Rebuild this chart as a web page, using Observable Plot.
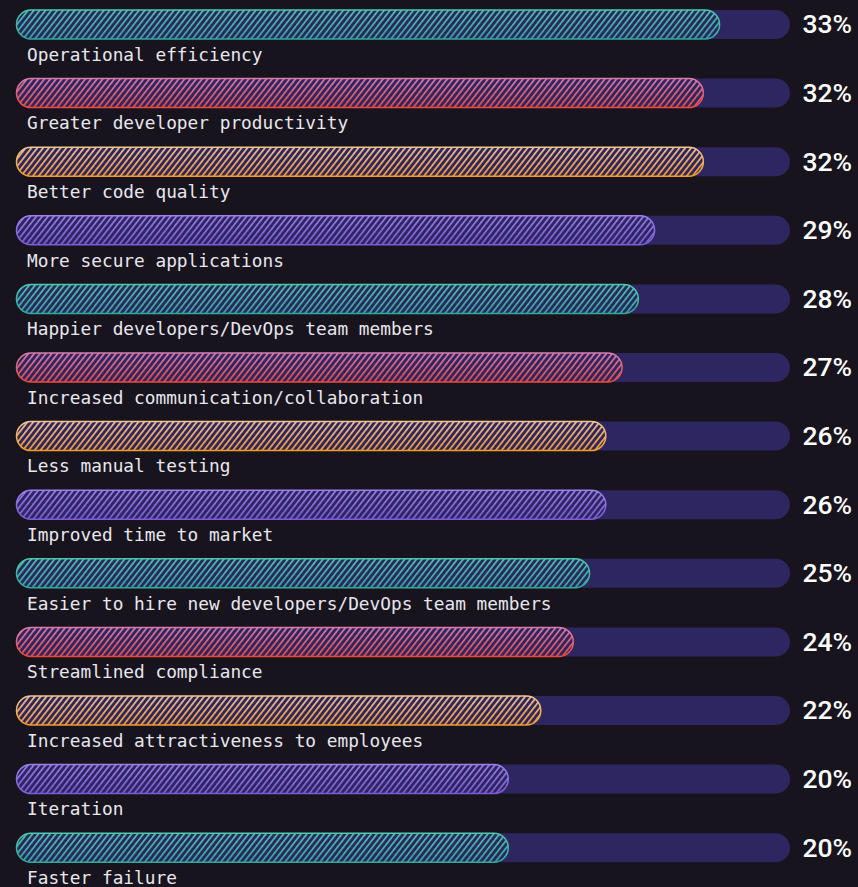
<!DOCTYPE html>
<html><head><meta charset="utf-8">
<script src="https://cdn.jsdelivr.net/npm/d3@7"></script>
<script src="https://cdn.jsdelivr.net/npm/@observablehq/plot@0.6"></script>
<style>html,body{margin:0;padding:0;background:#17141e;} #chart{width:858px;height:887px;overflow:hidden}</style>
</head><body><div id="chart"></div>
<script>
const categories = [
  "Operational efficiency",
  "Greater developer productivity",
  "Better code quality",
  "More secure applications",
  "Happier developers/DevOps team members",
  "Increased communication/collaboration",
  "Less manual testing",
  "Improved time to market",
  "Easier to hire new developers/DevOps team members",
  "Streamlined compliance",
  "Increased attractiveness to employees",
  "Iteration",
  "Faster failure"
];
const values = [33, 32, 32, 29, 28, 27, 26, 26, 25, 24, 22, 20, 20];
const colorCycle = ["teal", "red", "orange", "purple"];
const gradientStops = {
  teal: ["#4cc9ac", "#31a99b"],
  red: ["#d97cab", "#ea4a3e"],
  orange: ["#f2c58f", "#f59b28"],
  purple: ["#9d80ea", "#7b5bd6"]
};
const trackColor = "#2e2660";
const bgColor = "#17141e";
const xDomain = [-10.25, 37.33];

const data = categories.map((c, i) => ({category: c, value: values[i], color: colorCycle[i % colorCycle.length]}));

const plot = Plot.plot({
  width: 858, height: 887,
  marginLeft: 16.5, marginRight: 68, marginTop: 10, marginBottom: 24.8,
  style: {background: bgColor, color: "#ebe9f0", overflow: "visible"},
  x: {domain: xDomain, axis: null},
  y: {domain: categories, axis: null, paddingInner: 0.577, paddingOuter: 0, round: false},
  color: {type: "identity"},
  marks: [
    Plot.barX(data, {y: "category", x1: xDomain[0], x2: xDomain[1], fill: trackColor, rx: 14.5}),
    Plot.barX(data, {y: "category", x1: xDomain[0], x2: "value", fill: d => `url(#grad-${d.color})`, rx: 14.5}),
    Plot.barX(data, {y: "category", x1: xDomain[0], x2: "value", fill: d => "url(#hatch-gaps)", rx: 14.5}),
    Plot.barX(data, {y: "category", x1: xDomain[0], x2: "value", fill: "none", stroke: d => `url(#grad-${d.color})`, strokeWidth: 1.5, rx: 14.5}),
    Plot.text(data, {y: "category", x: xDomain[0], text: "category", dx: 10, dy: 30, textAnchor: "start",
      fontFamily: "DejaVu Sans Mono", fontSize: 17.8, fill: "#e9e7ee"}),
    Plot.text(data, {y: "category", x: xDomain[1], text: d => `${d.value}%`, dx: 12, dy: 0, textAnchor: "start",
      fontFamily: "Roboto", fontSize: 26.5, fontWeight: 500, fill: "#ffffff"})
  ]
});

const svgEl = plot.tagName.toLowerCase() === "svg" ? plot : plot.querySelector("svg");
const svg = d3.select(svgEl);
const defs = svg.insert("defs", ":first-child");
for (const [k, [a, b]] of Object.entries(gradientStops)) {
  const g = defs.append("linearGradient").attr("id", "grad-" + k)
    .attr("x1", 0).attr("y1", 0).attr("x2", 0).attr("y2", 1);
  g.append("stop").attr("offset", "0%").attr("stop-color", a);
  g.append("stop").attr("offset", "100%").attr("stop-color", b);
}
const p = defs.append("pattern").attr("id", "hatch-gaps")
  .attr("patternUnits", "userSpaceOnUse").attr("width", 4.6).attr("height", 20)
  .attr("patternTransform", "rotate(38)");
p.append("rect").attr("x", 1.7).attr("y", 0).attr("width", 2.9).attr("height", 20).attr("fill", trackColor);

document.getElementById("chart").appendChild(plot);
</script>
</body></html>
